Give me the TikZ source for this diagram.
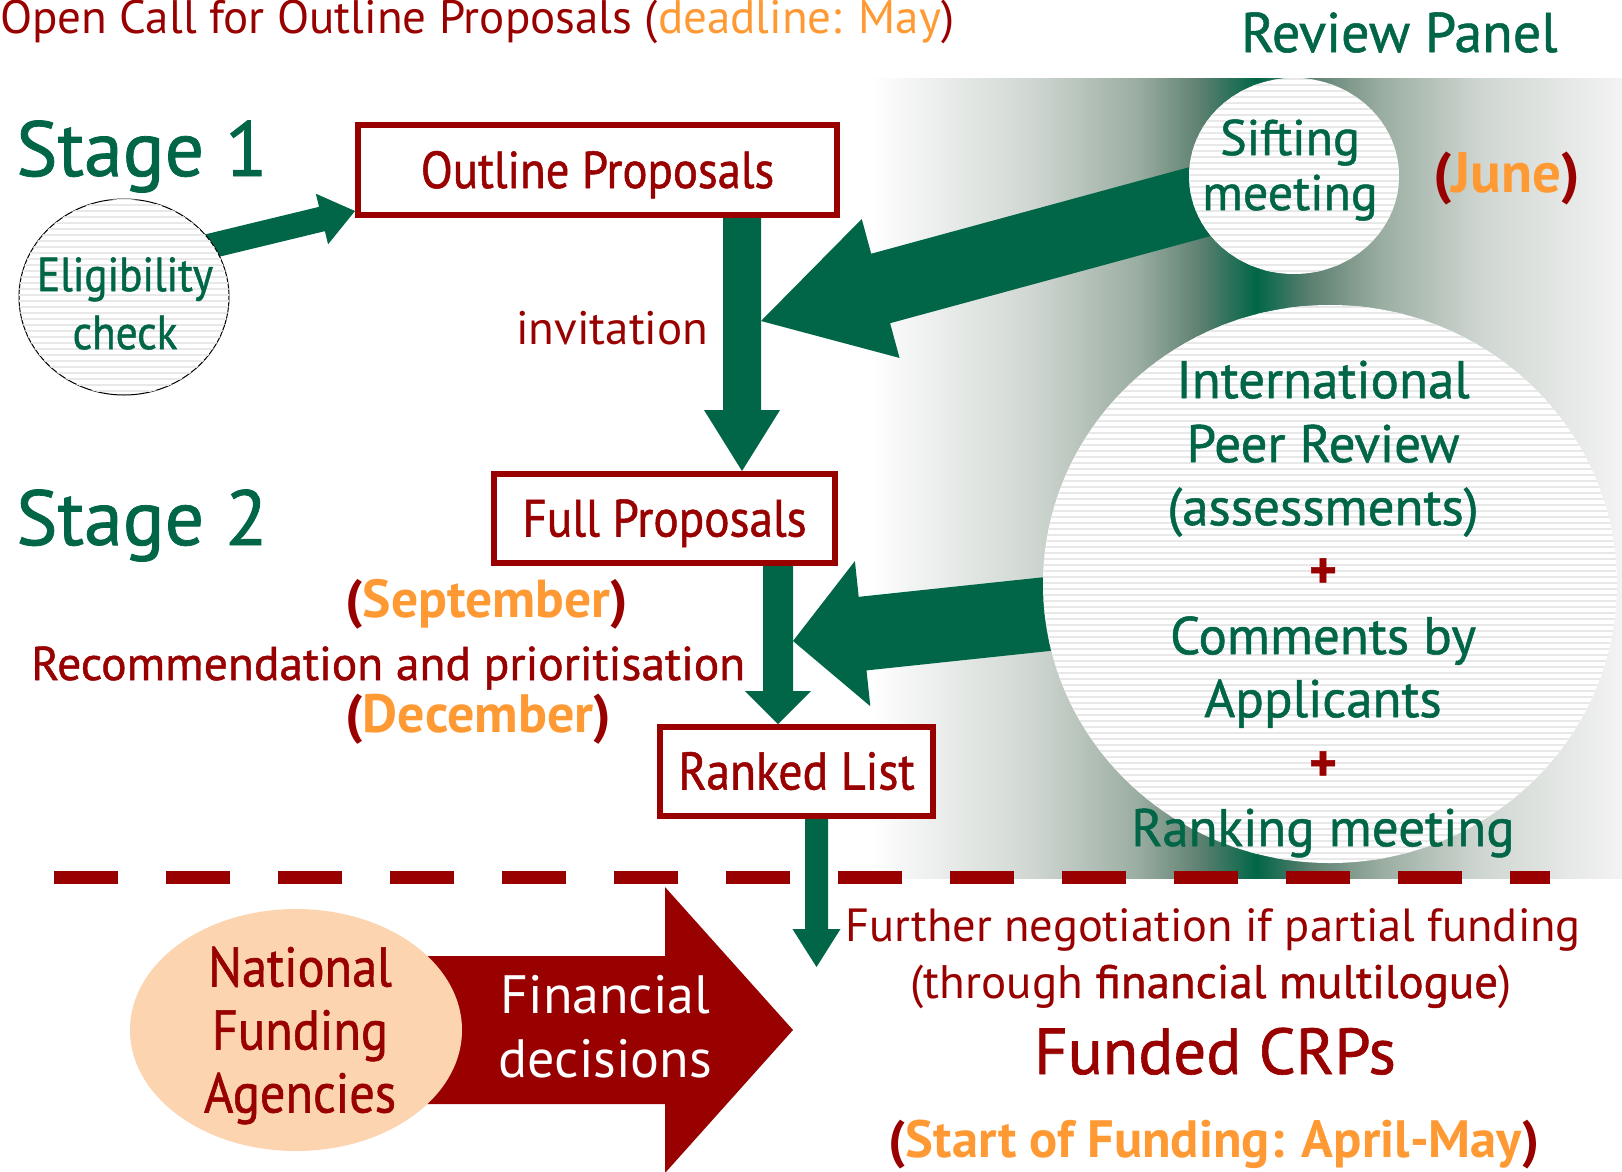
\documentclass[tikz,border=0pt]{standalone}
\usepackage{fontspec}
\setmainfont{PT Sans}
\newfontfamily\medf[FakeBold=1]{PT Sans}
\newfontfamily\condmed[FakeStretch=0.9,FakeBold=1]{PT Sans}
\usetikzlibrary{calc,patterns.meta,shapes.geometric}
\definecolor{dred}{HTML}{990000}
\definecolor{orng}{HTML}{FF9933}
\definecolor{dgreen}{HTML}{006647}
\definecolor{peach}{HTML}{FCD5B0}
\definecolor{g1}{HTML}{CFD6D1}
\definecolor{g2}{HTML}{9AADA1}
\definecolor{g3}{HTML}{5D8070}
\definecolor{g4}{HTML}{F3F3F3}
\pgfdeclarelayer{shade}
\pgfdeclarelayer{arr}
\pgfsetlayers{shade,arr,main}
% #2 start, #3 tip, #4 shaft half width, #5 head half width, #6 head length
\newcommand\blockarrow[6][]{%
  \path ($(#3)!#6!(#2)$) coordinate (ba-hb);
  \fill[#1] ($(#2)!#4!90:(#3)$) -- ($(ba-hb)!#4!-90:(#2)$) -- ($(ba-hb)!#5!-90:(#2)$) -- (#3)
    -- ($(ba-hb)!#5!90:(#2)$) -- ($(ba-hb)!#4!90:(#2)$) -- ($(#2)!#4!-90:(#3)$) -- cycle;}
\newcommand\fs[2]{\fontsize{#1}{#2}\selectfont}
\begin{document}
\begin{tikzpicture}[x=1pt,y=-1pt,
  box/.style={draw=dred,line width=6pt,fill=white,inner sep=0pt,text=dred,text height=36pt,text depth=0pt},
  stripes/.style={fill=white,postaction={pattern={Lines[angle=0,distance=6pt,line width=1.6pt]},pattern color=black!9}},
  oval/.style={ellipse,inner sep=0pt},
  mtxt/.style={align=center,inner sep=0pt},
  gtxt/.style={text=dgreen},
  rtxt/.style={text=dred},
  lbl/.style={anchor=base west,inner sep=0pt},
  cbl/.style={anchor=base,inner sep=0pt}]
\useasboundingbox (0,0) rectangle (1622,1171);
\begin{pgfonlayer}{shade}
\fill[white] (0,0) rectangle (1622,1171);
\shade[left color=white,right color=g1] (869,78) rectangle (1034.5,878);
\shade[left color=g1,right color=g2] (1034,78) rectangle (1138.5,878);
\shade[left color=g2,right color=g3] (1138,78) rectangle (1200.5,878);
\shade[left color=g3,right color=dgreen] (1200,78) rectangle (1256.5,878);
\shade[left color=dgreen,right color=g3] (1256,78) rectangle (1310.5,878);
\shade[left color=g3,right color=g2] (1310,78) rectangle (1380.5,878);
\shade[left color=g2,right color=g1] (1380,78) rectangle (1480.5,878);
\shade[left color=g1,right color=g4] (1480,78) rectangle (1622,878);
\end{pgfonlayer}

% titles and stage labels
\node[lbl,rtxt,font=\fs{47}{56}] (title) at (0,33) {Open Call for Outline Proposals (\textcolor{orng}{deadline: May})};
\node[lbl,gtxt,font=\medf\fs{56}{64}] (panel) at (1241,52) {Review Panel};
\node[lbl,gtxt,font=\medf\fs{78}{90}] (st1) at (16,176) {Stage 1};
\node[lbl,gtxt,font=\medf\fs{78}{90}] (st2) at (16,545) {Stage 2};

% boxes
\node[box,minimum width=479pt,minimum height=90pt,font=\condmed\fs{52}{60}] (outline) at (597.5,170) {Outline Proposals};
\node[box,minimum width=341pt,minimum height=89pt,font=\condmed\fs{52.5}{60}] (full) at (664.5,518.5) {Full Proposals};
\node[box,minimum width=273pt,minimum height=89pt,font=\condmed\fs{53}{60}] (ranked) at (796.5,771.5) {Ranked List};

% ovals and their texts
\node[oval,stripes,draw=black,line width=1pt,minimum width=210pt,minimum height=196pt] (elig) at (124,297) {};
\node[mtxt,gtxt,font=\condmed\fs{48}{58}] (eligtext) at (125,303.5) {Eligibility\\check};
\node[oval,stripes,minimum width=210pt,minimum height=196pt] (sift) at (1294,176) {};
\node[mtxt,gtxt,font=\medf\fs{50}{55}] (sifttext) at (1290,170) {Sifting\\meeting};
\node[oval,stripes,minimum width=574pt,minimum height=558pt] (peer) at (1330,584) {};
\node[mtxt,gtxt,font=\medf\fs{53}{63}] (peertext) at (1323,609)
  {International\\[1pt]Peer Review\\(assessments)\\[0pt]\textcolor{dred}{\bfseries +}\\[3pt]Comments by\\Applicants\\[1pt]\textcolor{dred}{\bfseries +}\\[2pt]Ranking meeting};
\node[oval,fill=peach,minimum width=332pt,minimum height=242pt] (nat) at (296,1030) {};
\node[mtxt,rtxt,font=\condmed\fs{56}{63}] (nattext) at (300,1035.5) {National\\Funding\\Agencies};

% labels
\node[lbl,rtxt,font=\fs{47}{56}] (inv) at (516,344) {invitation};
\node[lbl,rtxt,font=\bfseries\fs{57}{60}] (june) at (1433,192) {(\textcolor{orng}{June})};
\node[lbl,rtxt,font=\bfseries\fs{53.5}{60}] (sept) at (345,617) {(\textcolor{orng}{September})};
\node[lbl,rtxt,font=\medf\fs{47.5}{58}] (rec) at (31,680) {Recommendation and prioritisation};
\node[lbl,rtxt,font=\bfseries\fs{54}{60}] (dec) at (345,732) {(\textcolor{orng}{December})};
\node[cbl,rtxt,font=\fs{46.5}{56}] (neg) at (1213,941) {Further negotiation if partial funding};
\node[cbl,rtxt,font=\fs{47}{56}] (thr) at (1211,998) {(through {\medf financial multilogue})};
\node[cbl,rtxt,font=\medf\fs{65}{70}] (crp) at (1215,1074) {Funded CRPs};
\node[cbl,rtxt,font=\bfseries\fs{52.5}{60}] (start) at (1214,1157) {(\textcolor{orng}{Start of Funding: April-May})};
\node[mtxt,text=white,font=\fs{54}{64}] (fin) at (605.5,1026.5) {Financial\\decisions};

% separator
\draw[dred,line width=13pt,dash pattern=on 64pt off 48pt] (54,877) -- (1550,877);

% arrows
\coordinate (a1e) at (355,211);
\coordinate (a1s) at ($(elig.30)!-20pt!(a1e)$);
\coordinate (a2s) at ([xshift=144.5pt]outline.south);
\coordinate (a2e) at (a2s |- full.north);
\coordinate (a3e) at ($(a2s)+(19,103)$);
\coordinate (a4s) at ([xshift=113.5pt]full.south);
\coordinate (a4e) at (a4s |- ranked.north);
\coordinate (a5e) at ($(a4s)+(15,75)$);
\coordinate (a6s) at ([xshift=20pt]ranked.south);
\coordinate (a6e) at ($(a6s)+(0,148)$);
\coordinate (a7e) at (793,1030);
\begin{pgfonlayer}{arr}
\blockarrow[dgreen]{a1s}{a1e}{12.5pt}{26pt}{34pt}
\blockarrow[dgreen]{a2s}{a2e}{19pt}{38pt}{61pt}
\blockarrow[dgreen]{sift.center}{a3e}{36pt}{72pt}{124pt}
\blockarrow[dgreen]{a4s}{a4e}{15pt}{33pt}{33pt}
\blockarrow[dgreen]{peer.center}{a5e}{37pt}{73pt}{70pt}
\blockarrow[dgreen]{a6s}{a6e}{11.5pt}{24pt}{38pt}
\blockarrow[dred]{nat.center}{a7e}{74pt}{143pt}{128pt}
\end{pgfonlayer}
\end{tikzpicture}
\end{document}
